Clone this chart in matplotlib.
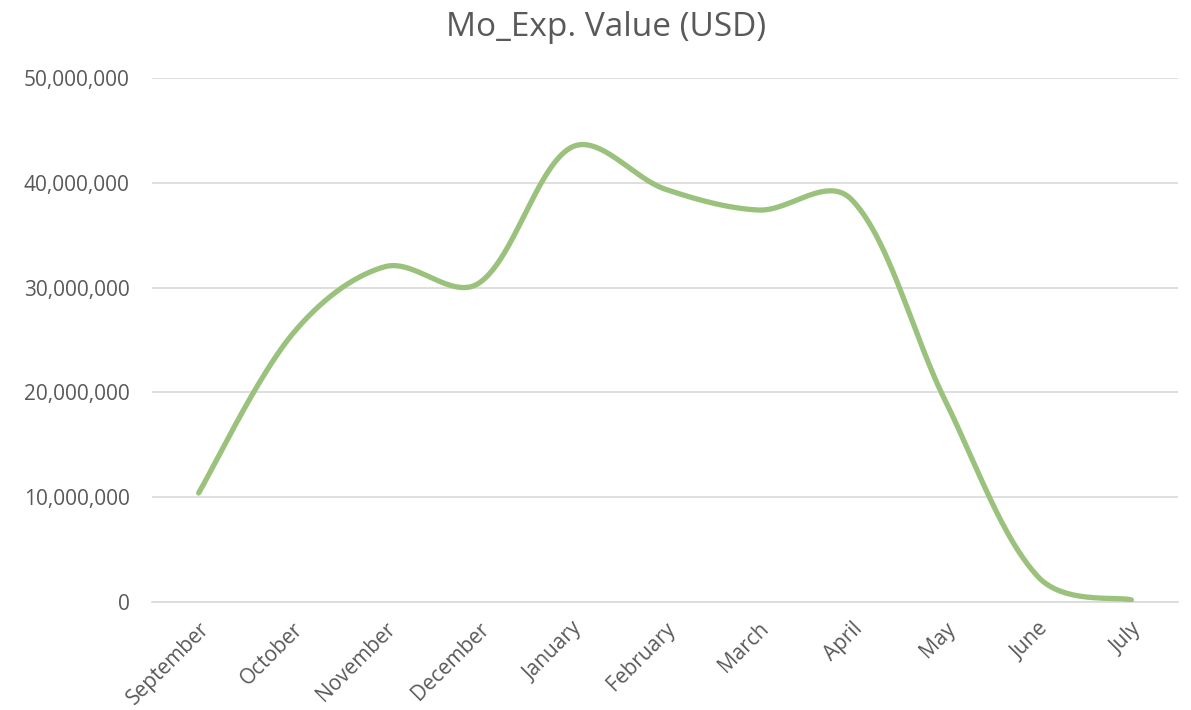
import numpy as np
import matplotlib
matplotlib.use("Agg")
import matplotlib.pyplot as plt
from matplotlib.ticker import FuncFormatter

months = ["September", "October", "November", "December", "January", "February",
          "March", "April", "May", "June", "July"]
values = [10.4e6, 25.5e6, 32.0e6, 30.4e6, 43.4e6, 39.4e6, 37.4e6, 38.4e6, 19.3e6, 2.4e6, 0.2e6]

plt.rcParams['font.family'] = ['Open Sans', 'DejaVu Sans']

def smooth(xs, ys, sx_px, sy_px, n=50, blend=0.5):
    # Excel-like smoothed line: cubic Bezier segments; control arms partly weighted by segment length
    P = np.column_stack([np.asarray(xs, float) * sx_px, np.asarray(ys, float) * sy_px])
    m = len(P)
    L = np.linalg.norm(np.diff(P, axis=0), axis=1)
    fwd = np.zeros_like(P); back = np.zeros_like(P)
    for i in range(m):
        if i == 0:
            fwd[i] = (P[1] - P[0]) / 6
        elif i == m - 1:
            back[i] = (P[-1] - P[-2]) / 6
        else:
            d = P[i + 1] - P[i - 1]
            tot = L[i - 1] + L[i]
            wf = blend * 0.5 + (1 - blend) * L[i] / tot
            wb = blend * 0.5 + (1 - blend) * L[i - 1] / tot
            fwd[i] = d * wf / 3
            back[i] = d * wb / 3
    t = np.linspace(0, 1, n)[:, None]
    out = []
    for i in range(m - 1):
        p0, p3 = P[i], P[i + 1]
        c1, c2 = p0 + fwd[i], p3 - back[i + 1]
        b = (1 - t) ** 3 * p0 + 3 * (1 - t) ** 2 * t * c1 + 3 * (1 - t) * t ** 2 * c2 + t ** 3 * p3
        out.append(b)
    out = np.vstack(out)
    return out[:, 0] / sx_px, out[:, 1] / sy_px

fig = plt.figure(figsize=(11.91, 7.10), dpi=100)
ax = fig.add_axes([152 / 1191, 1 - 602 / 710, (1178 - 152) / 1191, (602 - 78) / 710])

x = np.arange(len(months))
px_per_cat = (1178 - 152) / len(months)
px_per_val = (602 - 78) / 50e6
sx, sy = smooth(x, values, px_per_cat, px_per_val)
ax.plot(sx, sy, color="#9BC27C", lw=3.8, solid_capstyle="round", zorder=3)

ax.set_xlim(-0.5, len(months) - 0.5)
ax.set_ylim(0, 50e6)
ax.set_yticks(np.arange(0, 50e6 + 1, 10e6))
ax.yaxis.set_major_formatter(FuncFormatter(lambda v, p: f"{int(v):,}"))
ax.grid(axis="y", color="#D9D9D9", lw=1.2, zorder=0)
ax.set_axisbelow(True)
for s in ["top", "right", "left"]:
    ax.spines[s].set_visible(False)
ax.spines["bottom"].set_color("#D9D9D9")
ax.spines["bottom"].set_linewidth(1.2)
ax.tick_params(axis="both", length=0, colors="#595959", labelsize=15)
ax.tick_params(axis="y", pad=16)
ax.set_xticks(x)
ax.set_xticklabels(months, rotation=45, ha="right", rotation_mode="anchor")
ax.tick_params(axis="x", pad=12)

fig.text(606 / 1191, 1 - 27 / 710, "Mo_Exp. Value (USD)", ha="center", va="center",
         fontsize=24, color="#595959")

fig.savefig("out.png", dpi=100)
